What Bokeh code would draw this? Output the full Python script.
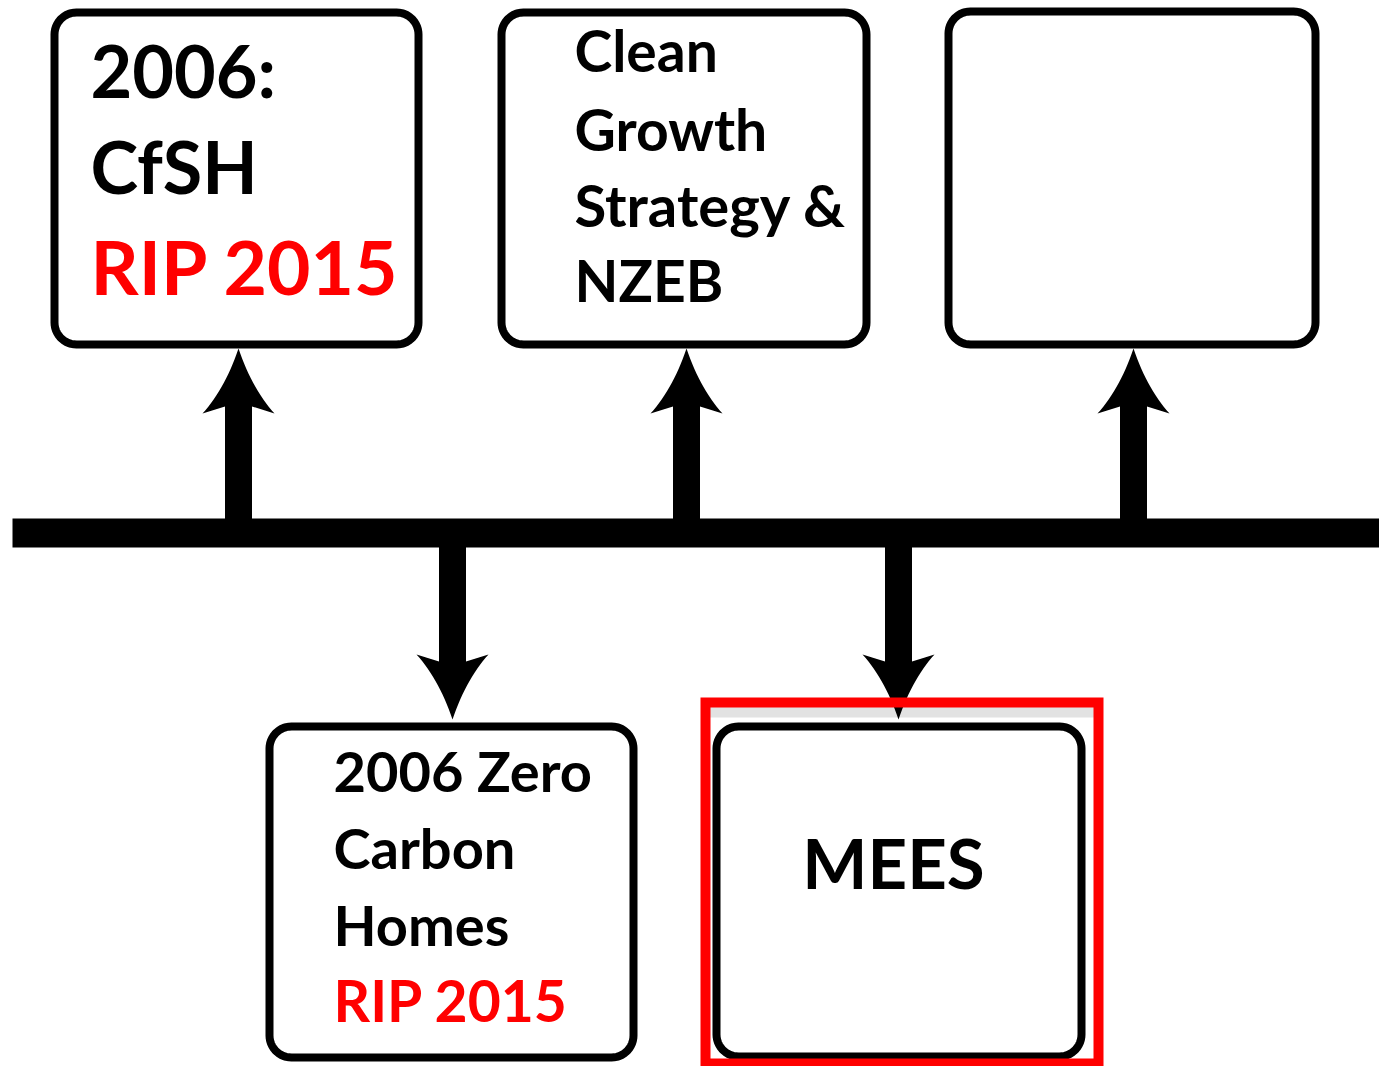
import numpy as np
from bokeh.plotting import figure
from bokeh.models import Range1d
from bokeh.core.properties import value
from bokeh.embed import file_html
from bokeh.resources import INLINE

# ---- diagram data (page pixel coordinates) ----
box_left   = [54, 501, 948, 269, 716]
box_right  = [418, 866, 1315, 633, 1081]
box_top    = [12, 12, 11, 726, 726]
box_bottom = [344, 344, 344, 1057, 1056]

timeline_x = [12, 1379]
timeline_y = [518, 547]

up_x = [238, 686, 1133]        # arrows pointing to upper boxes
up_tip = 348
down_x = [452, 898]            # arrows pointing to lower boxes
down_tip = 719

highlight = dict(left=705, right=1098, top=702, bottom=1063)

# text lines: (left x, baseline, text, colour, size)
text_x     = [90, 90, 90,
              574, 574, 574, 574,
              333, 333, 333, 333,
              893]
text_y     = [99, 195, 296,
              73, 152, 228, 303,
              793, 870, 947, 1023,
              890]
text_str   = ["2006:", "CfSH", "RIP 2015",
              "Clean", "Growth", "Strategy &", "NZEB",
              "2006 Zero", "Carbon", "Homes", "RIP 2015",
              "MEES"]
text_col   = ["black", "black", "#ff0000",
              "black", "black", "black", "black",
              "black", "black", "black", "#ff0000",
              "black"]
text_px    = [72, 72, 75,
              57, 57, 58, 57,
              56, 56, 56, 57,
              69]
text_algn  = ["left"] * 11 + ["center"]

# ---- figure ----
W, H = 1379, 1066
p = figure(width=W, height=H, output_backend="svg", toolbar_location=None,
           x_range=Range1d(0, W), y_range=Range1d(H, 0),
           min_border=0, outline_line_color=None)
p.axis.visible = False
p.grid.visible = False
p.background_fill_color = "white"
p.border_fill_color = "white"


def rounded(l, r, t, b, rad, n=14):
    xs, ys = [], []
    corners = [((l + rad, t + rad), 180, 270), ((r - rad, t + rad), 270, 360),
               ((r - rad, b - rad), 0, 90), ((l + rad, b - rad), 90, 180)]
    for (cx, cy), a0, a1 in corners:
        a = np.radians(np.linspace(a0, a1, n))
        xs.extend(cx + rad * np.cos(a))
        ys.extend(cy + rad * np.sin(a))
    return list(xs), list(ys)


def head(cx, tip, s, L=65, Wd=36, notch=7, hw=13.5, n=16):
    # s = +1 : arrow points up (base below tip); s = -1 : points down
    base = tip + s * L
    ny = tip + s * (L - notch)
    t = np.linspace(0, 1, n)
    p0 = np.array([cx, tip])
    xs, ys = [], []
    for side in (1, -1):
        p1 = np.array([cx + side * 0.38 * Wd, tip + s * 0.62 * L])
        p2 = np.array([cx + side * Wd, base])
        curve = ((1 - t)[:, None] ** 2) * p0 + (2 * (1 - t) * t)[:, None] * p1 + (t ** 2)[:, None] * p2
        if side == -1:
            curve = curve[::-1]
            xs.extend([cx - hw]); ys.extend([ny])
            xs.extend(curve[:, 0]); ys.extend(curve[:, 1])
        else:
            xs.extend(curve[:, 0]); ys.extend(curve[:, 1])
            xs.extend([cx + hw]); ys.extend([ny])
    return list(xs), list(ys)


# grey screenshot band inside the highlight
p.quad(left=[highlight["left"] + 4], right=[highlight["right"] - 4],
       top=[highlight["top"] + 4], bottom=[highlight["top"] + 15],
       fill_color="#e2e2e2", line_color=None)

# timeline bar
p.quad(left=[timeline_x[0]], right=[timeline_x[1]], top=[timeline_y[0]], bottom=[timeline_y[1]],
       fill_color="black", line_color=None)

# shafts
hw = 13.5
p.quad(left=[x - hw for x in up_x], right=[x + hw for x in up_x],
       top=[up_tip + 55] * len(up_x), bottom=[timeline_y[0] + 2] * len(up_x),
       fill_color="black", line_color=None)
p.quad(left=[x - hw for x in down_x], right=[x + hw for x in down_x],
       top=[timeline_y[1] - 2] * len(down_x), bottom=[down_tip - 55] * len(down_x),
       fill_color="black", line_color=None)

# heads
hx, hy = [], []
for x in up_x:
    a, b = head(x, up_tip, 1)
    hx.append(a); hy.append(b)
for x in down_x:
    a, b = head(x, down_tip, -1)
    hx.append(a); hy.append(b)
p.patches(hx, hy, fill_color="black", line_color=None)

# boxes
bx, by = [], []
for l, r, t, b in zip(box_left, box_right, box_top, box_bottom):
    a, c = rounded(l, r, t, b, 22)
    bx.append(a); by.append(c)
p.patches(bx, by, fill_color="white", line_color="black", line_width=8, line_join="round")

# red highlight
p.quad(left=[highlight["left"]], right=[highlight["right"]],
       top=[highlight["top"]], bottom=[highlight["bottom"]],
       fill_color=None, line_color="#ff0000", line_width=10, line_join="miter")

# texts (renderer places alphabetic baseline ~0.41 em below the anchor)
text_anchor_y = [y - 0.41 * s for y, s in zip(text_y, text_px)]
p.text(x=text_x, y=text_anchor_y, text=text_str, text_color=text_col,
       text_font=value("Lato"), text_font_style="bold",
       text_font_size=[f"{s}px" for s in text_px],
       text_baseline="alphabetic", text_align=text_algn)

open("out.html", "w").write(file_html(p, INLINE))
